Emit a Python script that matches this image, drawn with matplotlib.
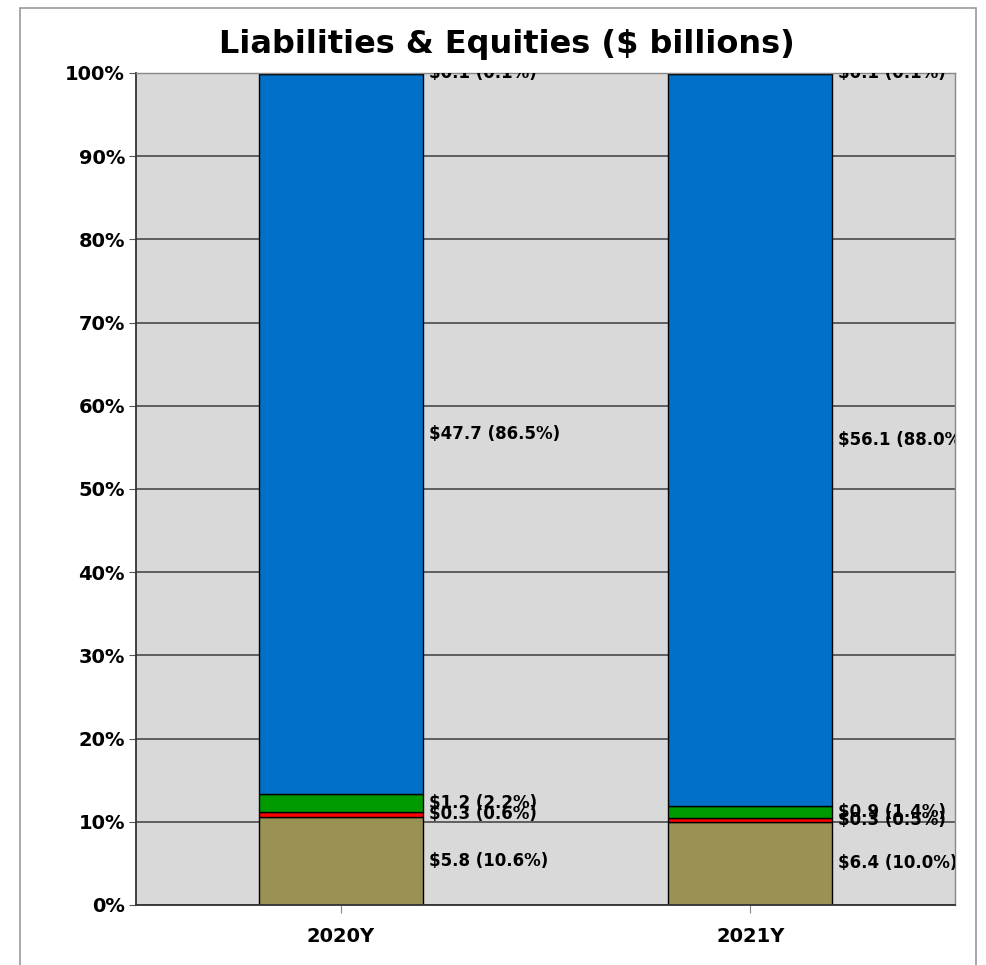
import matplotlib
matplotlib.use("Agg")
import matplotlib.pyplot as plt
from matplotlib.patches import Rectangle
import numpy as np

categories = ["2020Y", "2021Y"]
series_names = ["Equity", "Other", "Current", "Long-term", "Misc"]
values = {
    "Equity":    [5.8, 6.4],
    "Other":     [0.3, 0.3],
    "Current":   [1.2, 0.9],
    "Long-term": [47.7, 56.1],
    "Misc":      [0.1, 0.1],
}
percents = {
    "Equity":    [10.6, 10.0],
    "Other":     [0.6, 0.5],
    "Current":   [2.2, 1.4],
    "Long-term": [86.5, 88.0],
    "Misc":      [0.1, 0.1],
}
colors = ["#9A9155", "#FF0000", "#009900", "#0070C8", "#7030A0"]
yticks = list(range(0, 101, 10))

W, H = 986, 965
fig = plt.figure(figsize=(W / 100, H / 100), dpi=100)
fig.patch.set_facecolor("white")
fig.add_artist(Rectangle((20 / W, -0.01), (976 - 20) / W, (H - 8) / H + 0.01,
                         transform=fig.transFigure, fill=False,
                         edgecolor="#999999", lw=1.2))

ax = fig.add_axes([136 / W, 60 / H, (955 - 136) / W, (905 - 73) / H])
ax.set_facecolor("#D9D9D9")
ax.set_xlim(-0.5, 1.5)
ax.set_ylim(0, 100)
ax.set_axisbelow(True)
ax.yaxis.grid(True, color="#555555", lw=1.3)

x = np.arange(len(categories))
bottom = np.zeros(len(categories))
bw = 0.4
for name, c in zip(series_names, colors):
    p = np.array(percents[name])
    ax.bar(x, p, bw, bottom=bottom, color=c, edgecolor="black", lw=1, zorder=2)
    for i in range(len(categories)):
        ax.text(x[i] + bw / 2 + 0.015, bottom[i] + p[i] / 2,
                f"${values[name][i]:.1f} ({p[i]:.1f}%)",
                ha="left", va="center", fontsize=12, fontweight="bold",
                color="black", zorder=3, clip_on=True)
    bottom += p

ax.set_yticks(yticks)
ax.set_yticklabels([f"{v}%" for v in yticks], fontsize=14, fontweight="bold")
ax.set_xticks(x)
ax.set_xticklabels(categories, fontsize=14, fontweight="bold")
ax.tick_params(axis="y", length=5, color="#555555", pad=3)
ax.tick_params(axis="x", length=6, color="#888888", pad=10)
for s in ["left", "bottom"]:
    ax.spines[s].set_color("#333333")
    ax.spines[s].set_linewidth(1.3)
for s in ["top", "right"]:
    ax.spines[s].set_color("#888888")
    ax.spines[s].set_linewidth(1)

fig.text(507 / W, 1 - 44 / H, "Liabilities & Equities ($ billions)",
         ha="center", va="center", fontsize=23, fontweight="bold")

fig.savefig("out.png", dpi=100)
